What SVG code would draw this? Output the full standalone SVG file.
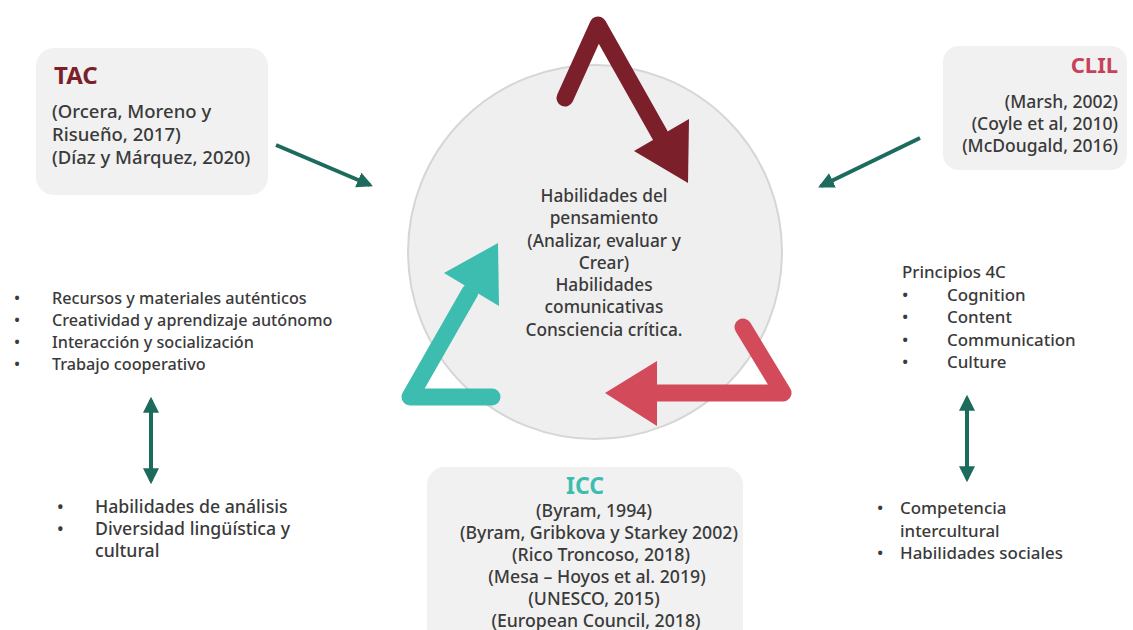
<svg xmlns="http://www.w3.org/2000/svg" width="1133" height="630" viewBox="0 0 1133 630">
<defs>
<style>
.t{font-family:"Noto Sans","Open Sans",sans-serif;fill:#3a3a3a;font-weight:500}
.c{text-anchor:middle}
.r{text-anchor:end}
.f16{font-size:16.2px}
.f17{font-size:16.9px}
.f173{font-size:17.3px}
.f175{font-size:17.5px}
.f177{font-size:17.7px}
.f185{font-size:18.5px}
.box{fill:#f1f1f1}
.g{stroke:#1d6b5c;stroke-width:4;fill:none}
.big{fill:none;stroke-width:17;stroke-linecap:round;stroke-linejoin:round}
.h{font-family:"Noto Sans",sans-serif;font-weight:700}
</style>
<marker id="ah" viewBox="0 0 10 10" refX="8" refY="5" markerWidth="4" markerHeight="4" orient="auto-start-reverse">
<path d="M0,0 L10,5 L0,10 z" fill="#1d6b5c"/>
</marker>
</defs>
<rect width="1133" height="630" fill="#ffffff"/>

<g id="center">
<circle cx="595" cy="252" r="187" fill="#efefef" stroke="#d6d6d6" stroke-width="2"/>
<text class="t c f173" x="604" y="202">Habilidades del</text>
<text class="t c f173" x="604" y="224">pensamiento</text>
<text class="t c f173" x="604" y="247">(Analizar, evaluar y</text>
<text class="t c f173" x="604" y="269">Crear)</text>
<text class="t c f173" x="604" y="291">Habilidades</text>
<text class="t c f173" x="604" y="313">comunicativas</text>
<text class="t c f173" x="604" y="336">Consciencia crítica.</text>
</g>

<g id="cycle-arrows">
<polyline class="big" stroke="#7b1f2b" points="565,98 598,25 660,135"/>
<polygon fill="#7b1f2b" points="634,151 689,119 688,183"/>
<polyline class="big" stroke="#3dbdb0" points="492,397 410,397 470,292"/>
<polygon fill="#3dbdb0" points="444,273 498,243 499,306"/>
<polyline class="big" stroke="#d34a5a" points="743,327 783,393 650,393"/>
<polygon fill="#d34a5a" points="657,361 605,393 657,426"/>
</g>

<g id="tac">
<rect class="box" x="36" y="48" width="232" height="147" rx="18"/>
<text class="h" x="54" y="84" font-size="24" fill="#7b1f2b">TAC</text>
<text class="t f185" x="52" y="118">(Orcera, Moreno y</text>
<text class="t f185" x="52" y="141">Risueño, 2017)</text>
<text class="t f185" x="52" y="164">(Díaz y Márquez, 2020)</text>
</g>

<g id="clil">
<rect class="box" x="943" y="46" width="184" height="124" rx="16"/>
<text class="h" x="1118" y="73" text-anchor="end" font-size="22" fill="#c8415a">CLIL</text>
<text class="t r f175" x="1118" y="108">(Marsh, 2002)</text>
<text class="t r f175" x="1118" y="130">(Coyle et al, 2010)</text>
<text class="t r f175" x="1118" y="152">(McDougald, 2016)</text>
</g>

<g id="icc">
<rect class="box" x="427" y="467" width="316" height="190" rx="18"/>
<text class="h" x="585" y="494" text-anchor="middle" font-size="23" fill="#3dbdb0">ICC</text>
<text class="t c f177" x="594" y="517">(Byram, 1994)</text>
<text class="t c f177" x="599" y="539">(Byram, Gribkova y Starkey 2002)</text>
<text class="t c f177" x="601" y="561">(Rico Troncoso, 2018)</text>
<text class="t c f177" x="597" y="583">(Mesa – Hoyos et al. 2019)</text>
<text class="t c f177" x="594" y="605">(UNESCO, 2015)</text>
<text class="t c f177" x="596" y="627">(European Council, 2018)</text>
</g>

<g id="left-list">
<text class="t f16" x="14" y="304">•</text><text class="t f16" x="52" y="304">Recursos y materiales auténticos</text>
<text class="t f16" x="14" y="326">•</text><text class="t f16" x="52" y="326">Creatividad y aprendizaje autónomo</text>
<text class="t f16" x="14" y="348">•</text><text class="t f16" x="52" y="348">Interacción y socialización</text>
<text class="t f16" x="14" y="370">•</text><text class="t f16" x="52" y="370">Trabajo cooperativo</text>
</g>

<g id="left-bottom">
<text class="t f177" x="57" y="513">•</text><text class="t f177" x="95" y="513">Habilidades de análisis</text>
<text class="t f177" x="57" y="535">•</text><text class="t f177" x="95" y="535">Diversidad lingüística y</text>
<text class="t f177" x="95" y="557">cultural</text>
</g>

<g id="right-list">
<text class="t f17" x="902" y="278">Principios 4C</text>
<text class="t f17" x="902" y="301">•</text><text class="t f17" x="947" y="301">Cognition</text>
<text class="t f17" x="902" y="323">•</text><text class="t f17" x="947" y="323">Content</text>
<text class="t f17" x="902" y="346">•</text><text class="t f17" x="947" y="346">Communication</text>
<text class="t f17" x="902" y="368">•</text><text class="t f17" x="947" y="368">Culture</text>
</g>

<g id="right-bottom">
<text class="t f17" x="877" y="514">•</text><text class="t f17" x="900" y="514">Competencia</text>
<text class="t f17" x="900" y="537">intercultural</text>
<text class="t f17" x="877" y="559">•</text><text class="t f17" x="900" y="559">Habilidades sociales</text>
</g>

<g id="connectors">
<line class="g" x1="276" y1="145" x2="370" y2="185" marker-end="url(#ah)"/>
<line class="g" x1="920" y1="138" x2="821" y2="186" marker-end="url(#ah)"/>
<line class="g" x1="151" y1="400" x2="151" y2="481" marker-start="url(#ah)" marker-end="url(#ah)"/>
<line class="g" x1="967" y1="398" x2="967" y2="479" marker-start="url(#ah)" marker-end="url(#ah)"/>
</g>
</svg>
